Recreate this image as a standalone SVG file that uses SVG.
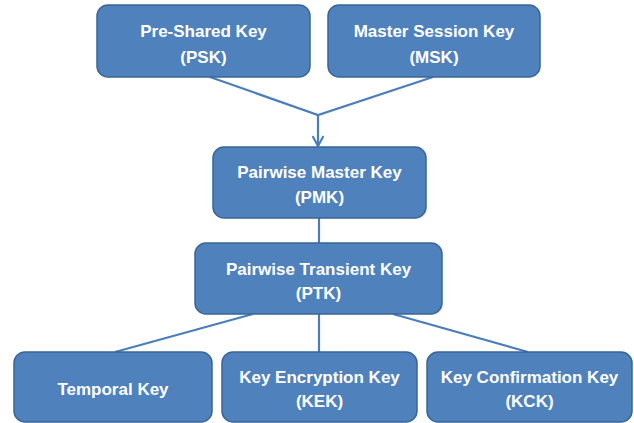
<svg xmlns="http://www.w3.org/2000/svg" width="634" height="423" viewBox="0 0 634 423">
<defs>
<style>
.box{fill:#4f81bd;stroke:#3a6696;stroke-width:1.5}
.t{font-family:"Liberation Sans",Arial,sans-serif;font-weight:bold;font-size:17px;fill:#ffffff;text-anchor:middle}
.c{fill:none;stroke:#4a7ebb;stroke-width:2.2}
</style>
<marker id="arr" viewBox="0 0 12 12" refX="11" refY="6" markerWidth="12" markerHeight="12" markerUnits="userSpaceOnUse" orient="auto">
<path d="M1,0.5 L11,6 L1,11.5" fill="none" stroke="#4a7ebb" stroke-width="2.2"/>
</marker>
</defs>
<rect width="634" height="423" fill="#ffffff"/>
<g id="connectors">
<path class="c" d="M210,77 L318,115 L433,77"/>
<path class="c" d="M318,115 L318,146" marker-end="url(#arr)"/>
<path class="c" d="M319,218 L319,243"/>
<path class="c" d="M253,314 L115,352"/>
<path class="c" d="M319,314 L319,352"/>
<path class="c" d="M393,314 L528,352"/>
</g>
<g id="psk">
<rect class="box" x="97" y="5" width="213" height="72" rx="11"/>
<text class="t" x="203.5" y="37">Pre-Shared Key</text>
<text class="t" x="203.5" y="63">(PSK)</text>
</g>
<g id="msk">
<rect class="box" x="328" y="5" width="212" height="72" rx="11"/>
<text class="t" x="434" y="37">Master Session Key</text>
<text class="t" x="434" y="63">(MSK)</text>
</g>
<g id="pmk">
<rect class="box" x="213" y="147" width="213" height="71" rx="11"/>
<text class="t" x="319.5" y="178">Pairwise Master Key</text>
<text class="t" x="319.5" y="203">(PMK)</text>
</g>
<g id="ptk">
<rect class="box" x="195" y="243" width="247" height="71" rx="11"/>
<text class="t" x="318.5" y="275">Pairwise Transient Key</text>
<text class="t" x="318.5" y="299">(PTK)</text>
</g>
<g id="tk">
<rect class="box" x="14" y="352" width="198" height="70" rx="11"/>
<text class="t" x="113" y="395">Temporal Key</text>
</g>
<g id="kek">
<rect class="box" x="222" y="352" width="195" height="70" rx="11"/>
<text class="t" x="319.5" y="383">Key Encryption Key</text>
<text class="t" x="319.5" y="407">(KEK)</text>
</g>
<g id="kck">
<rect class="box" x="427" y="352" width="205" height="70" rx="11"/>
<text class="t" x="529.5" y="383">Key Confirmation Key</text>
<text class="t" x="529.5" y="407">(KCK)</text>
</g>
</svg>
